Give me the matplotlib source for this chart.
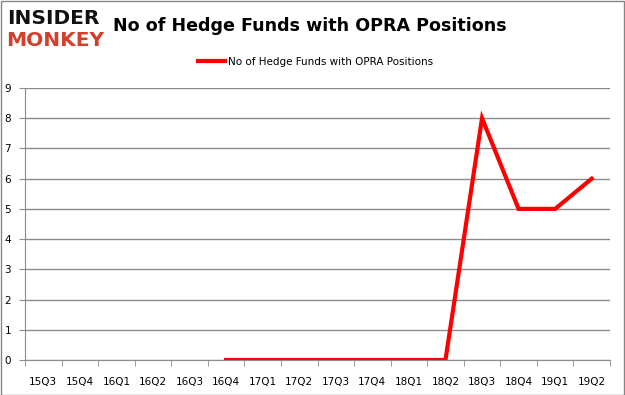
import numpy as np
import matplotlib
matplotlib.use("Agg")
import matplotlib.pyplot as plt
from matplotlib.lines import Line2D

quarters = ["15Q3", "15Q4", "16Q1", "16Q2", "16Q3", "16Q4", "17Q1", "17Q2",
            "17Q3", "17Q4", "18Q1", "18Q2", "18Q3", "18Q4", "19Q1", "19Q2"]
# no data before 16Q4
funds = [None, None, None, None, None, 0, 0, 0, 0, 0, 0, 0, 8, 5, 5, 6]
series_label = "No of Hedge Funds with OPRA Positions"
title = "No of Hedge Funds with OPRA Positions"

plt.rcParams['font.family'] = ['DejaVu Sans']

fig = plt.figure(figsize=(6.25, 3.95), dpi=100)
ax = fig.add_axes([0.04, 0.0886, 0.936, 0.6886])

x = np.arange(len(quarters))
y = np.array([np.nan if v is None else v for v in funds], dtype=float)
ax.plot(x, y, color="#ff0000", lw=3, solid_joinstyle="miter")

ax.set_xlim(-0.5, len(quarters) - 0.5)
ax.set_ylim(0, 9)
ax.set_yticks(range(10))
ax.yaxis.grid(True, color="#8c8c8c", lw=1)
ax.set_axisbelow(True)

ax.set_xticks(x)
ax.set_xticklabels(quarters, fontsize=7.5)
ax.set_xticks(np.arange(-0.5, len(quarters)), minor=True)
ax.tick_params(axis="x", which="major", length=0, pad=12)
ax.tick_params(axis="x", which="minor", length=4, color="#8c8c8c")
ax.tick_params(axis="y", length=4, color="#8c8c8c", labelsize=7.5, pad=6)

for s in ["top", "right"]:
    ax.spines[s].set_visible(False)
for s in ["left", "bottom"]:
    ax.spines[s].set_color("#8c8c8c")

fig.text(0.181, 0.935, title, fontsize=12.6, fontweight="bold", va="center", ha="left")
fig.text(0.012, 0.952, "INSIDER", fontsize=14.5, fontweight="heavy", color="#111111", va="center")
fig.text(0.010, 0.898, "MONKEY", fontsize=14.5, fontweight="heavy", color="#d33f2a", va="center")

handle = Line2D([], [], color="#ff0000", lw=3)
fig.legend([handle], [series_label], loc="center", bbox_to_anchor=(0.505, 0.843),
           frameon=False, fontsize=7.5, handlelength=2.6, handletextpad=0.3)

fig.patches.append(plt.Rectangle((0.001, 0.001), 0.997, 0.997, transform=fig.transFigure,
                                 fill=False, edgecolor="#868686", lw=1))

fig.savefig("out.png", dpi=100)
